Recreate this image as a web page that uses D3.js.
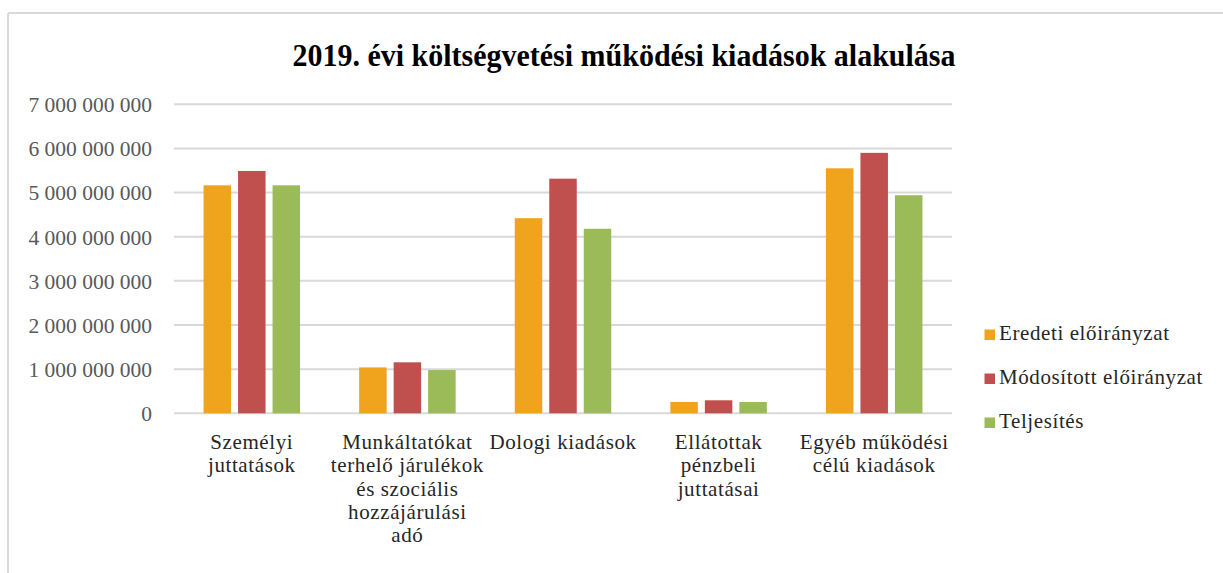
<!DOCTYPE html>
<html>
<head>
<meta charset="utf-8">
<script src="https://cdn.jsdelivr.net/npm/d3@7"></script>
</head>
<body style="margin:0">
<svg id="chart" width="1223" height="573" font-family="Liberation Serif"></svg>
<script>
const title = "2019. évi költségvetési működési kiadások alakulása";
const categories = [
  ["Személyi", "juttatások"],
  ["Munkáltatókat", "terhelő járulékok", "és szociális", "hozzájárulási", "adó"],
  ["Dologi kiadások"],
  ["Ellátottak", "pénzbeli", "juttatásai"],
  ["Egyéb működési", "célú kiadások"]
];
const seriesNames = ["Eredeti előirányzat", "Módosított előirányzat", "Teljesítés"];
const seriesColors = ["#F0A41E", "#C0504D", "#9BBB59"];
const eredeti   = [5165000000, 1040000000, 4420000000, 256000000, 5550000000];
const modositott = [5490000000, 1155000000, 5315000000, 295000000, 5900000000];
const teljesites = [5165000000, 980000000, 4180000000, 256000000, 4940000000];
const yTicks = [0, 1e9, 2e9, 3e9, 4e9, 5e9, 6e9, 7e9];

const FONT = "Liberation Serif";
const seriesValues = [eredeti, modositott, teljesites];
const svg = d3.select("#chart");

// chart border
svg.append("line").attr("x1", 8).attr("x2", 1223).attr("y1", 13).attr("y2", 13)
  .attr("stroke", "#d9d9d9").attr("stroke-width", 2);
svg.append("line").attr("x1", 8).attr("x2", 8).attr("y1", 13).attr("y2", 573)
  .attr("stroke", "#d9d9d9").attr("stroke-width", 2);

const pLeft = 174, pRight = 952, pTop = 104.3, pBottom = 413.3;
const y = d3.scaleLinear().domain([0, 7e9]).range([pBottom, pTop]);
const x0 = d3.scaleBand().domain(d3.range(categories.length)).range([pLeft, pRight]).paddingInner(0).paddingOuter(0);

// gridlines
svg.append("g").selectAll("line").data(yTicks).join("line")
  .attr("x1", pLeft).attr("x2", pRight)
  .attr("y1", d => y(d)).attr("y2", d => y(d))
  .attr("stroke", "#d9d9d9").attr("stroke-width", 2);

// y axis labels
const fmt = d => d3.format(",")(d).replace(/,/g, " ");
const yAxis = d3.axisLeft(y).tickValues(yTicks).tickFormat(fmt).tickSize(0).tickPadding(22);
const gy = svg.append("g").attr("transform", `translate(${pLeft},0)`).call(yAxis);
gy.attr("font-family", FONT).attr("font-size", 21.5);
gy.select(".domain").remove();
gy.selectAll("text").attr("font-family", FONT).attr("font-size", 21.5).attr("fill", "#595959").attr("dy", "0.34em");

// bars
const bw = x0.bandwidth();
const barW = 27.5, gap = 7;
const groupW = barW * 3 + gap * 2;
const x1 = d3.scaleBand().domain(d3.range(3)).range([0, groupW]).paddingInner(gap / (barW + gap)).paddingOuter(0);
const g = svg.append("g");
categories.forEach((c, i) => {
  const gx = x0(i) + (bw - groupW) / 2;
  seriesValues.forEach((vals, s) => {
    g.append("rect")
      .attr("x", gx + x1(s))
      .attr("y", y(vals[i]))
      .attr("width", x1.bandwidth())
      .attr("height", y(0) - y(vals[i]))
      .attr("fill", seriesColors[s]);
  });
});

// x labels
categories.forEach((lines, i) => {
  const cx = x0(i) + bw / 2;
  lines.forEach((ln, k) => {
    svg.append("text")
      .attr("x", cx).attr("y", 449 + k * 23.3)
      .attr("text-anchor", "middle")
      .attr("font-family", FONT).attr("font-size", 21)
      .attr("letter-spacing", 0.6)
      .attr("fill", "#262626")
      .text(ln);
  });
});

// title
svg.append("text")
  .attr("x", 292.5).attr("y", 66)
  .attr("textLength", 663).attr("lengthAdjust", "spacingAndGlyphs")
  .attr("font-family", FONT).attr("font-size", 32).attr("font-weight", "bold")
  .attr("fill", "#000")
  .text(title);

// legend
const leg = svg.append("g");
seriesNames.forEach((n, s) => {
  const base = 340 + s * 44;
  leg.append("rect").attr("x", 984.5).attr("y", base - 10.5).attr("width", 10.5).attr("height", 10.5).attr("fill", seriesColors[s]);
  leg.append("text").attr("x", 999).attr("y", base)
    .attr("font-family", FONT).attr("font-size", 21)
    .attr("letter-spacing", 0.6)
    .attr("fill", "#262626").text(n);
});
</script>
</body>
</html>
